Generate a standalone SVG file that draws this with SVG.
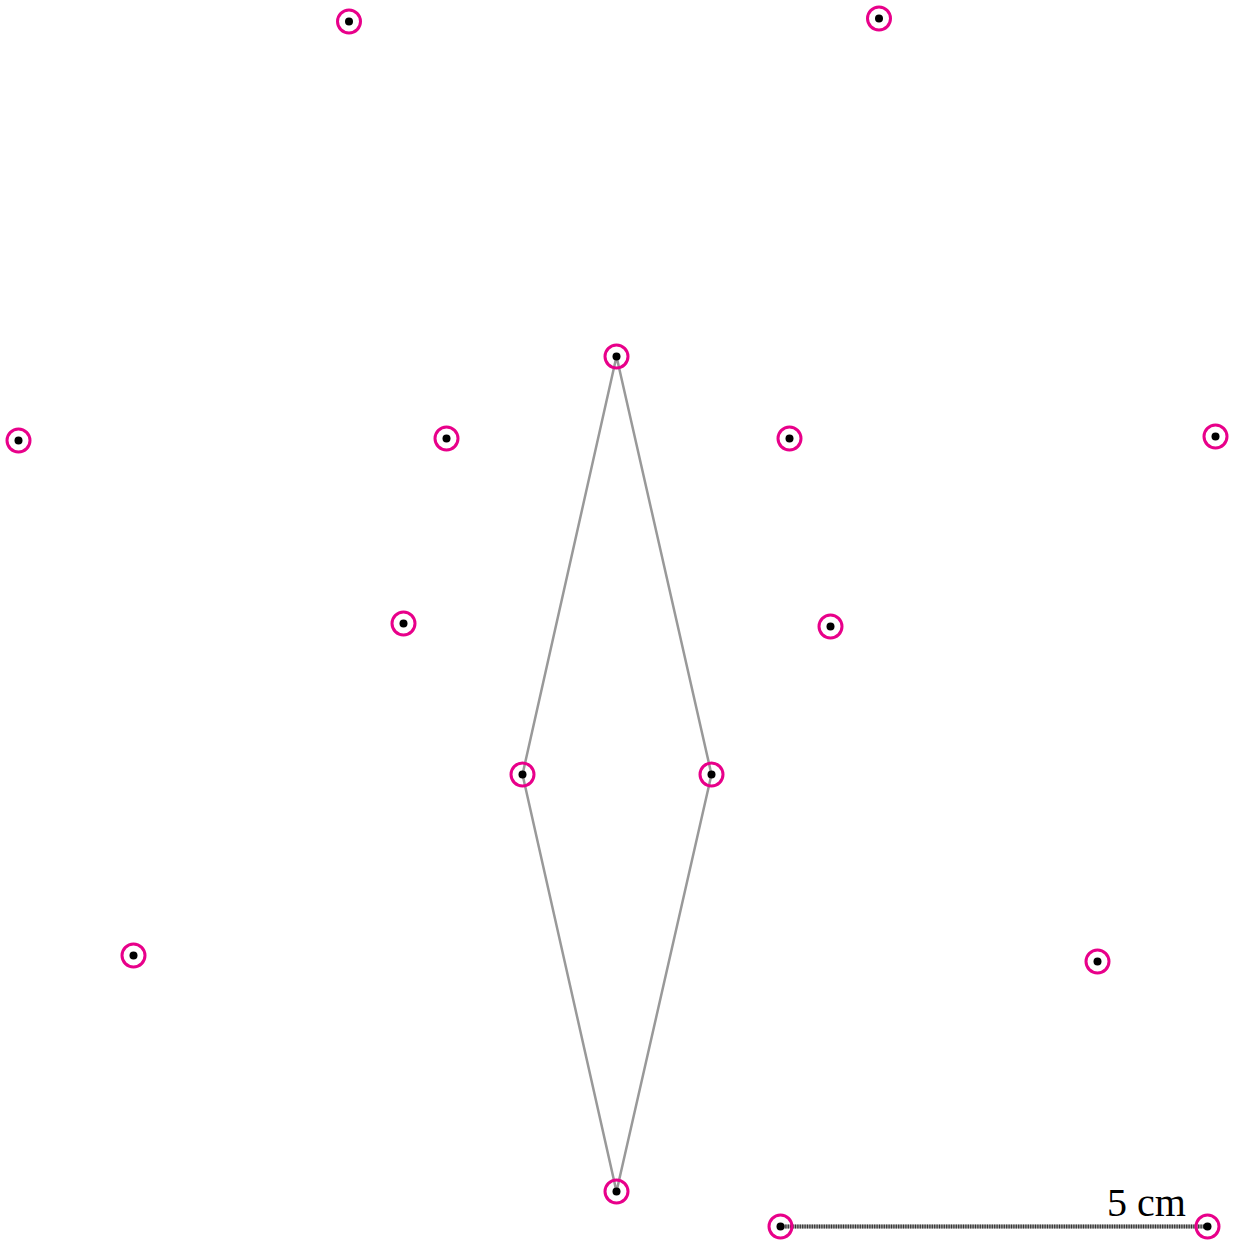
<svg xmlns="http://www.w3.org/2000/svg" width="1241" height="1242" viewBox="0 0 1241 1242">
<style>
.ring{fill:none;stroke:#e8008a;stroke-width:3}
.dot{fill:#000}
.edge{fill:none;stroke:#999;stroke-width:2.5;stroke-linejoin:round}
.lbl{font-family:"Liberation Serif",serif;font-size:40px;fill:#000}
</style>
<defs>
<g id="pt"><circle class="ring" r="11.5"/><circle class="dot" r="4"/></g>
</defs>
<rect width="1241" height="1242" fill="#fff"/>
<g id="connectors">
<polygon class="edge" points="616.5,356.5 711.5,774.5 616.5,1191.5 522.5,774.5"/>
<line x1="780.5" y1="1226.5" x2="1207.5" y2="1226.5" stroke="#aaa" stroke-width="4"/>
<line x1="780.5" y1="1226.5" x2="1207.5" y2="1226.5" stroke="#333" stroke-width="4" stroke-dasharray="1.2 1.2"/>
</g>
<g id="n1"><use href="#pt" x="349" y="21.5"/></g>
<g id="n2"><use href="#pt" x="879" y="18.5"/></g>
<g id="n3"><use href="#pt" x="616.5" y="356.5"/></g>
<g id="n4"><use href="#pt" x="18.5" y="440.5"/></g>
<g id="n5"><use href="#pt" x="446.5" y="438.5"/></g>
<g id="n6"><use href="#pt" x="789.5" y="438.5"/></g>
<g id="n7"><use href="#pt" x="1215.5" y="436.5"/></g>
<g id="n8"><use href="#pt" x="403.5" y="623.5"/></g>
<g id="n9"><use href="#pt" x="830.5" y="626.5"/></g>
<g id="n10"><use href="#pt" x="522.5" y="774.5"/></g>
<g id="n11"><use href="#pt" x="711.5" y="774.5"/></g>
<g id="n12"><use href="#pt" x="133.5" y="955.5"/></g>
<g id="n13"><use href="#pt" x="1097.5" y="961.5"/></g>
<g id="n14"><use href="#pt" x="616.5" y="1191.5"/></g>
<g id="n15"><use href="#pt" x="780.5" y="1226.5"/></g>
<g id="n16"><use href="#pt" x="1207.5" y="1226.5"/></g>
<text class="lbl" x="1107" y="1216">5 cm</text>
</svg>
